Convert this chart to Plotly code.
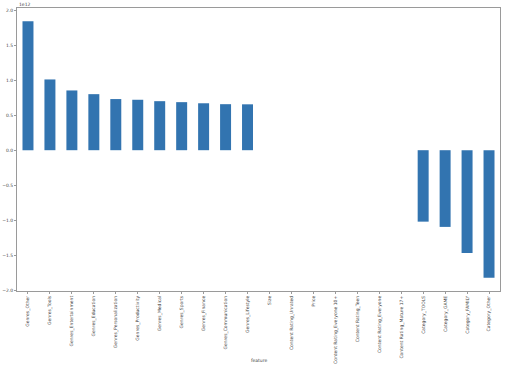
import plotly.graph_objects as go

features = [
    "Genres_Other", "Genres_Tools", "Genres_Entertainment", "Genres_Education",
    "Genres_Personalization", "Genres_Productivity", "Genres_Medical", "Genres_Sports",
    "Genres_Finance", "Genres_Communication", "Genres_Lifestyle", "Size",
    "Content Rating_Unrated", "Price", "Content Rating_Everyone 10+", "Content Rating_Teen",
    "Content Rating_Everyone", "Content Rating_Mature 17+", "Category_TOOLS",
    "Category_GAME", "Category_FAMILY", "Category_Other",
]
# coefficients in units of 1e12
coef = [
    1.84, 1.01, 0.853, 0.80, 0.73, 0.72, 0.70, 0.686, 0.67, 0.657, 0.655,
    0.0, 0.0, 0.0, 0.0, 0.0, 0.0, 0.0,
    -1.02, -1.095, -1.467, -1.82,
]
yticks = [2.0, 1.5, 1.0, 0.5, 0.0, -0.5, -1.0, -1.5, -2.0]
ytick_text = ["2.0", "1.5", "1.0", "0.5", "0.0", "\u22120.5", "\u22121.0", "\u22121.5", "\u22122.0"]

fig = go.Figure(go.Bar(
    x=list(range(len(features))), y=coef, width=0.5,
    marker=dict(color="#3274b0", line=dict(width=0)),
))

FONT = dict(family="DejaVu Sans", size=4.5, color="#444")
axis_common = dict(showgrid=False, zeroline=False, showline=True, linecolor="#9a9a9a",
                   linewidth=1, mirror=True, ticks="outside", ticklen=2, tickcolor="#9a9a9a",
                   automargin=False, tickfont=FONT)
fig.update_layout(
    width=512, height=376, margin=dict(l=17, r=12, t=8, b=85),
    paper_bgcolor="white", plot_bgcolor="white", showlegend=False,
    xaxis=dict(range=[-0.5, len(features) - 0.5], tickmode="array",
               tickvals=list(range(len(features))), ticktext=features, tickangle=-90,
               **axis_common),
    yaxis=dict(range=[-2.01, 2.03], tickmode="array", tickvals=yticks, ticktext=ytick_text,
               **axis_common),
    annotations=[
        dict(text="1e12", xref="paper", yref="paper", x=0, y=1, xanchor="left",
             yanchor="bottom", showarrow=False, yshift=-1, font=FONT),
        dict(text="feature", xref="paper", yref="paper", x=0.5, y=-0.247, xanchor="center",
             yanchor="middle", showarrow=False, font=FONT),
    ],
)
fig.write_html("out.html", config={"displayModeBar": False},
               post_script="document.body.style.margin='0';")
